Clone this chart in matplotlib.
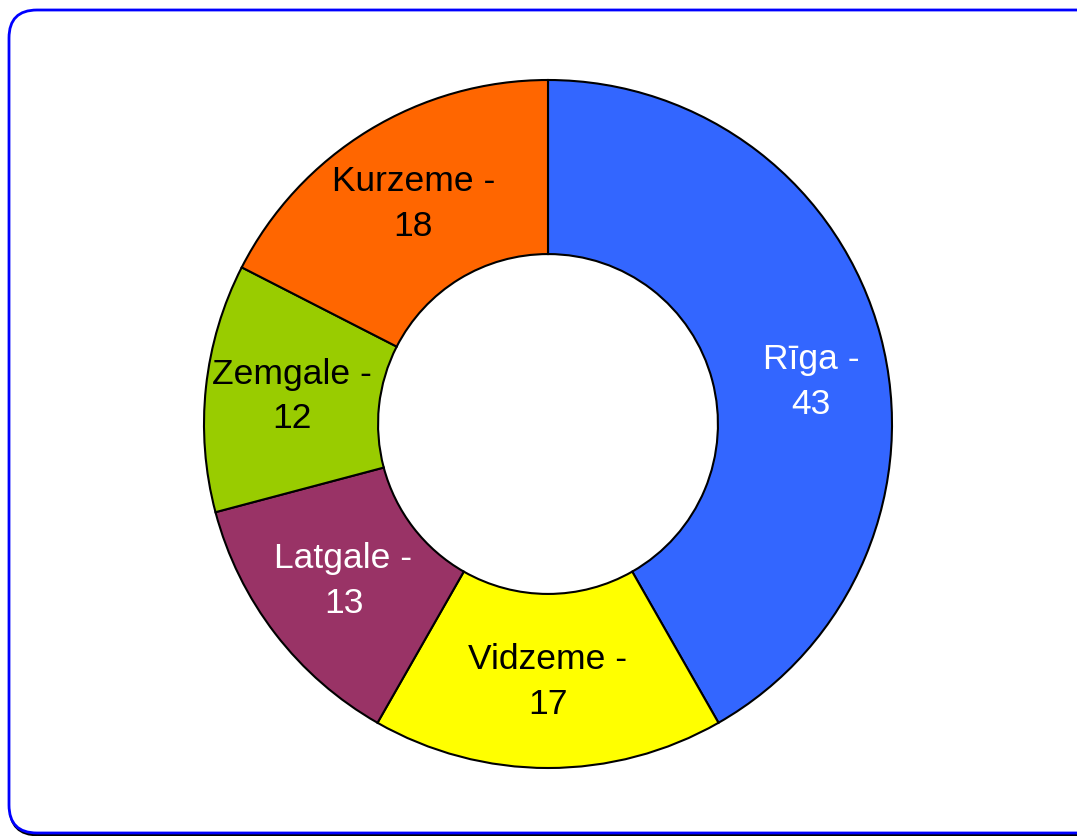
import matplotlib.pyplot as plt
import numpy as np
from matplotlib.patches import FancyBboxPatch

plt.rcParams['font.family'] = ['Liberation Sans', 'DejaVu Sans']

regions = ["Rīga", "Vidzeme", "Latgale", "Zemgale", "Kurzeme"]
values = [43, 17, 13, 12, 18]
colors = ["#3366FF", "#FFFF00", "#993366", "#99CC00", "#FF6600"]
text_colors = ["white", "black", "white", "black", "black"]

W, H = 1077, 836
fig = plt.figure(figsize=(W / 100, H / 100), dpi=100)

# frame: rounded blue border with a thin dark shadow
bg = fig.add_axes([0, 0, 1, 1], zorder=0)
bg.set_xlim(0, W)
bg.set_ylim(0, H)
bg.axis("off")
shadow = FancyBboxPatch((10, 1), W + 20, 824, boxstyle="round,pad=0,rounding_size=28",
                        fc="none", ec="black", lw=2)
frame = FancyBboxPatch((9, 3), W + 20, 823, boxstyle="round,pad=0,rounding_size=28",
                       fc="white", ec="#0000FF", lw=2)
bg.add_patch(shadow)
bg.add_patch(frame)

r_px = 344
cx, cy = 548, H - 424
ax = fig.add_axes([(cx - r_px) / W, (cy - r_px) / H, 2 * r_px / W, 2 * r_px / H], zorder=1)

labels = ["{} -\n{}".format(n, v) for n, v in zip(regions, values)]
wedges, texts = ax.pie(values, colors=colors, startangle=90, counterclock=False,
                       radius=1.0, labels=labels, labeldistance=0.75,
                       wedgeprops=dict(width=0.506, edgecolor="black", linewidth=1.5),
                       textprops=dict(fontsize=25.5, ha="center", va="center", linespacing=1.45))
for t, c in zip(texts, text_colors):
    t.set_color(c)
    t.set_horizontalalignment("center")
    t.set_path_effects([])
# Excel nudges the Rīga label a bit lower
x, y = texts[0].get_position()
texts[0].set_position((x + 0.04, y - 0.07))

ax.set_xlim(-1, 1)
ax.set_ylim(-1, 1)
ax.set_aspect("equal")
ax.axis("off")

fig.savefig("out.png", dpi=100)
